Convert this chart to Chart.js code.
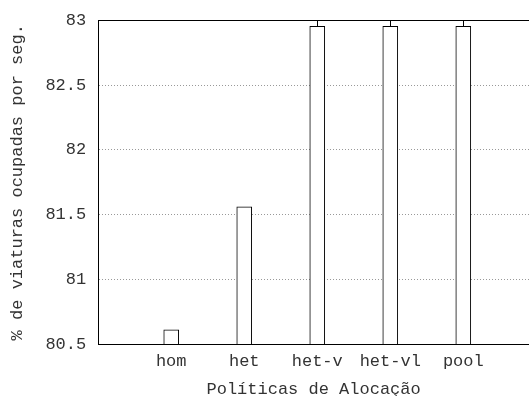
<!DOCTYPE html>
<html lang="pt">
<head>
    <meta charset="UTF-8">
    <title>Políticas de Alocação</title>
    <script src="https://cdn.jsdelivr.net/npm/chart.js"></script>
    <style>
      body { margin: 0; background: #fff; }
      #wrap { width: 529px; height: 396px; }
    </style>
</head>
<body>
    <div id="wrap"><canvas id="chart"></canvas></div>

    <script type="text/javascript" charset="utf-8">
      // data
      const policies = ["hom", "het", "het-v", "het-vl", "pool"];
      const positions = [1, 2, 3, 4, 5];
      const occupied = [80.61, 81.56, 82.955, 82.955, 82.955];
      const errHigh = [null, null, 83.05, 83.05, 83.05];
      const yTicks = [80.5, 81, 81.5, 82, 82.5, 83];

      const mono = "'Liberation Mono', 'DejaVu Sans Mono', monospace";
      const ink = "#333";

      // small error whiskers above the bars (clipped at the top border)
      const whiskers = {
        id: "whiskers",
        afterDatasetsDraw(chart) {
          const { ctx, chartArea, scales } = chart;
          ctx.save();
          ctx.beginPath();
          ctx.rect(chartArea.left, chartArea.top, chartArea.right - chartArea.left, chartArea.bottom - chartArea.top);
          ctx.clip();
          ctx.strokeStyle = "#000";
          ctx.lineWidth = 1;
          errHigh.forEach((hi, i) => {
            if (hi == null) return;
            const x = Math.round(scales.x.getPixelForValue(positions[i])) + 0.5;
            ctx.beginPath();
            ctx.moveTo(x, scales.y.getPixelForValue(occupied[i]));
            ctx.lineTo(x, scales.y.getPixelForValue(hi));
            ctx.stroke();
          });
          ctx.restore();
        }
      };

      const ctx = document.getElementById("chart").getContext("2d");
      new Chart(ctx, {
        type: "bar",
        data: {
          datasets: [{
            data: positions.map((p, i) => ({ x: p, y: occupied[i] })),
            backgroundColor: "#fff",
            borderColor: "#000",
            borderWidth: 1,
            barThickness: 15
          }]
        },
        options: {
          responsive: true,
          maintainAspectRatio: false,
          animation: false,
          layout: { padding: { top: 14, right: 0, bottom: -2, left: 7 } },
          plugins: { legend: { display: false }, tooltip: { enabled: false } },
          scales: {
            x: {
              type: "linear",
              offset: false,
              min: 0,
              max: 5.9,
              afterBuildTicks: (axis) => { axis.ticks = positions.map(v => ({ value: v })); },
              ticks: {
                callback: (v) => policies[positions.indexOf(v)],
                font: { family: mono, size: 17, lineHeight: 1 },
                color: ink,
                padding: 9,
                maxRotation: 0,
                autoSkip: false
              },
              grid: { display: false, drawTicks: false },
              border: { display: true, color: "#000", width: 1 },
              title: {
                display: true,
                text: "Políticas de Alocação",
                font: { family: mono, size: 17, lineHeight: 1 },
                color: ink,
                padding: { top: 2, bottom: 0 }
              }
            },
            x2: {
              type: "linear",
              position: "top",
              offset: false,
              min: 0,
              max: 5.9,
              ticks: { display: false },
              grid: { display: false, drawTicks: false },
              border: { display: true, color: "#000", width: 1 }
            },
            y: {
              min: 80.5,
              max: 83,
              afterBuildTicks: (axis) => { axis.ticks = yTicks.map(v => ({ value: v })); },
              ticks: {
                callback: (v) => String(v),
                font: { family: mono, size: 17, lineHeight: 1 },
                color: ink,
                padding: 12
              },
              grid: {
                color: "#999",
                lineWidth: 1,
                drawTicks: false
              },
              border: { display: true, color: "#000", width: 1, dash: [1, 2] },
              title: {
                display: true,
                text: "% de viaturas ocupadas por seg.",
                font: { family: mono, size: 17 },
                color: ink,
                padding: { top: 0, bottom: 6 }
              }
            }
          }
        },
        plugins: [whiskers]
      });
    </script>
</body>
</html>
